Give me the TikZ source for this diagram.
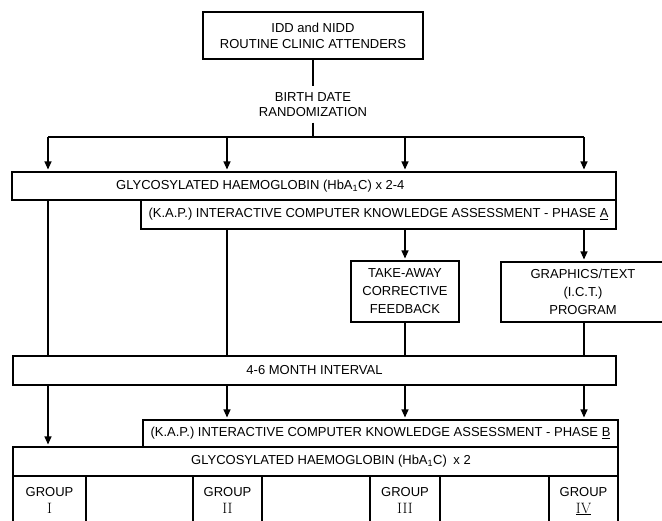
\documentclass[tikz,border=0pt]{standalone}
\usepackage{fontspec}
\newfontfamily\lab{Liberation Sans}
\usetikzlibrary{arrows.meta}
\begin{document}
\begin{tikzpicture}[x=1pt,y=-1pt,
  box/.style={draw, line width=1.1pt, inner sep=0pt},
  lbl/.style={font=\lab\fontsize{13}{16}\selectfont, inner sep=0pt, align=center},
  arr/.style={-{Triangle[width=7pt,length=8pt]}, line width=1.1pt, shorten >=2pt},
  ln/.style={line width=1.1pt}]
\useasboundingbox (0,0) rectangle (662,520);

% top box
\node[box, lbl, minimum width=220pt, minimum height=47pt] (top) at (313,35.5)
  {IDD and NIDD\\ROUTINE CLINIC ATTENDERS};
\node[lbl, inner sep=6pt, font=\lab\fontsize{13}{15}\selectfont] (birth) at (313,104.5) {BIRTH DATE\\RANDOMIZATION};
\coordinate (split) at (313,137);
\coordinate (h1) at (48,137);
\coordinate (h2) at (227,137);
\coordinate (h3) at (405,137);
\coordinate (h4) at (584,137);

% first stage boxes
\node[box, minimum width=604pt, minimum height=28pt] (glyA) at (314,186) {};
\node[lbl, anchor=west] (glyAt) at (116,186) {GLYCOSYLATED HAEMOGLOBIN (HbA\textsubscript{1}C) x 2-4};
\node[box, lbl, minimum width=475pt, minimum height=29pt] (kapA) at (378.5,214.5)
  {(K.A.P.) INTERACTIVE COMPUTER KNOWLEDGE ASSESSMENT - PHASE \underline{A}};

% intervention boxes
\node[box, lbl, minimum width=108pt, minimum height=61pt, font=\lab\fontsize{13}{18}\selectfont] (take) at (405,291.5)
  {TAKE-AWAY\\CORRECTIVE\\FEEDBACK};
\node[box, minimum width=169pt, minimum height=60pt] (graph) at (585.5,292) {};
\node[lbl, font=\lab\fontsize{13}{18}\selectfont] (grapht) at (583,292) {GRAPHICS/TEXT\\(I.C.T.)\\PROGRAM};

% interval
\node[box, lbl, minimum width=603pt, minimum height=29pt] (mon) at (314.5,370.5) {4-6 MONTH INTERVAL};

% second stage
\node[box, lbl, minimum width=475pt, minimum height=27pt] (kapB) at (380.5,433.5)
  {(K.A.P.) INTERACTIVE COMPUTER KNOWLEDGE ASSESSMENT - PHASE \underline{B}};
\node[box, minimum width=605pt, minimum height=29pt] (gly2) at (315.5,461.5) {};
\node[lbl] (gly2t) at (331,461.5) {GLYCOSYLATED HAEMOGLOBIN (HbA\textsubscript{1}C)\enspace x 2};

% groups
\node[box, lbl, minimum width=73pt, minimum height=48pt] (g1) at (49.5,500) {GROUP\\[1pt]{\rmfamily\fontsize{15}{15}\selectfont I}};
\node[box, lbl, minimum width=69pt, minimum height=48pt] (g2) at (227.5,500) {GROUP\\[1pt]{\rmfamily\fontsize{15}{15}\selectfont II}};
\node[box, lbl, minimum width=70pt, minimum height=48pt] (g3) at (405,500) {GROUP\\[1pt]{\rmfamily\fontsize{15}{15}\selectfont III}};
\node[box, lbl, minimum width=69pt, minimum height=48pt] (g4) at (583.5,500) {GROUP\\[1pt]{\rmfamily\fontsize{15}{15}\selectfont\smash{\underline{IV}}}};

% connectors
\draw[ln] (top.south) -- (birth.north);
\draw[ln] (birth.south) -- (split);
\draw[ln] (h1) -- (h4);
\foreach \c in {h1,h2,h3,h4} \draw[arr] (\c) -- (\c |- glyA.north);
\draw[ln] (h1 |- glyA.south) -- (h1 |- mon.north);
\draw[ln] (h2 |- kapA.south) -- (h2 |- mon.north);
\draw[arr] (h3 |- kapA.south) -- (take.north);
\draw[arr] (h4 |- kapA.south) -- (h4 |- graph.north);
\draw[ln] (take.south) -- (take.south |- mon.north);
\draw[ln] (h4 |- graph.south) -- (h4 |- mon.north);
\draw[arr] (h1 |- mon.south) -- (h1 |- gly2.north);
\foreach \c in {h2,h3,h4} \draw[arr] (\c |- mon.south) -- (\c |- kapB.north);
\end{tikzpicture}
\end{document}
